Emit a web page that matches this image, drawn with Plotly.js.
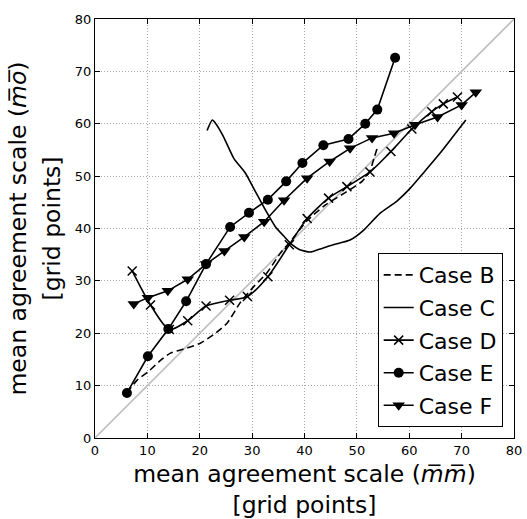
<!DOCTYPE html>
<html><head><meta charset="utf-8">
<script src="https://cdn.plot.ly/plotly-3.0.1.min.js"></script>
<style>body{margin:0;background:#fff}#plot{width:527px;height:519px}</style>
</head><body><div id="plot"></div>
<script>
const caseB_x = [6.1,8.0,10.2,12.5,14.4,17.6,20.1,22.6,25.2,27.7,30.3,32.8,35.4,37.3,40.5,44.0,48.0,51.0,52.5,53.3,54.1];
const caseB_y = [8.6,11.0,12.7,14.8,16.2,17.2,18.1,19.7,21.9,25.8,28.9,31.5,35.3,37.5,41.5,44.5,47.0,49.0,51.0,53.5,56.0];
const caseC_x = [21.4,22.4,23.0,24.5,26.5,28.7,30.6,32.5,34.4,36.0,37.5,39.0,41.1,43.0,45.5,48.7,51.2,54.4,57.6,60.2,62.7,65.9,68.4,70.8];
const caseC_y = [58.7,60.7,60.1,57.6,53.4,50.6,47.1,43.6,40.4,38.6,37.0,36.0,35.5,36.1,36.9,37.8,39.6,42.9,45.2,47.7,50.6,54.4,57.6,60.7];
const caseD_x = [7.1,10.6,14.2,17.7,21.2,25.7,29.1,33.0,37.1,40.5,44.6,48.1,52.5,56.5,60.5,64.3,66.5,69.2];
const caseD_y = [31.9,25.4,20.7,22.4,25.2,26.3,27.0,30.8,36.9,41.9,45.8,48.0,50.8,54.7,59.0,62.3,63.8,65.1];
const caseE_x = [6.1,10.1,14.0,17.4,21.2,25.8,29.4,33.0,36.5,39.6,43.6,48.4,51.6,53.9,57.3];
const caseE_y = [8.6,15.6,20.8,26.1,33.2,40.3,43.0,45.5,49.0,52.5,55.9,57.1,60.0,62.7,72.6];
const caseF_x = [7.4,10.1,13.9,17.7,21.2,24.7,28.5,32.3,36.1,40.5,44.8,48.7,52.9,57.1,61.1,65.4,70.0,72.7];
const caseF_y = [25.6,26.8,28.1,30.3,33.2,35.7,38.4,41.3,45.4,49.6,52.8,55.3,57.3,58.2,59.8,61.3,63.6,66.0];
const diag = [0, 80];
const tickVals = [0,10,20,30,40,50,60,70,80];
const xTitle = 'mean agreement scale (<i>m\u0305m\u0305</i>)<br>[grid points]';
const yTitle1 = 'mean agreement scale (<i>m\u0305o\u0305</i>)';
const yTitle2 = '[grid points]';

const lineW = 1.6;
const traces = [
  {x: diag, y: diag, mode:'lines', line:{color:'#c0c0c0', width:1.6}, showlegend:false, hoverinfo:'skip'},
  {x: caseB_x, y: caseB_y, name:'Case B', mode:'lines', legendgroup:'b', line:{color:'black', width:lineW, dash:'7px,4px', shape:'spline', smoothing:0.6}},
  {x: caseC_x, y: caseC_y, name:'Case C', mode:'lines', legendgroup:'c', line:{color:'black', width:lineW, shape:'spline', smoothing:0.6}},
  {x: caseD_x, y: caseD_y, name:'Case D', mode:'lines+markers', legendgroup:'d', line:{color:'black', width:lineW, shape:'spline', smoothing:0.7}, marker:{symbol:'x-thin-open', size:9, color:'black', line:{color:'black', width:1.5}}},
  {x: caseE_x, y: caseE_y, name:'Case E', mode:'lines+markers', legendgroup:'e', line:{color:'black', width:lineW}, marker:{symbol:'circle', size:10, color:'black'}},
  {x: caseF_x, y: caseF_y, name:'Case F', mode:'lines+markers', legendgroup:'f', line:{color:'black', width:lineW}, marker:{symbol:'triangle-down', size:11, color:'black'}}
];

const font = 'DejaVu Sans, sans-serif';
const titleFont = {family:font, size:23.5, color:'black'};
const axisCommon = {
  range:[0,80], tickvals:tickVals, ticks:'inside', ticklen:5, tickwidth:1, tickcolor:'black',
  showline:true, linecolor:'black', linewidth:1.2, mirror:'allticks',
  showgrid:true, gridcolor:'#a8a8a8', griddash:'1px,2px', gridwidth:1,
  zeroline:false, tickfont:{family:font, size:13, color:'black'}, fixedrange:true, automargin:false
};
const layout = {
  width:527, height:519,
  margin:{l:95, r:13, t:19, b:81},
  paper_bgcolor:'white', plot_bgcolor:'white',
  font:{family:font, color:'black'},
  xaxis: Object.assign({}, axisCommon, {
    title:{text:xTitle, font:titleFont, standoff:12}
  }),
  yaxis: Object.assign({}, axisCommon),
  annotations:[
    {text:yTitle1, xref:'paper', yref:'paper', x:-0.186, y:0.5, xanchor:'center', yanchor:'middle', textangle:-90, showarrow:false, font:titleFont},
    {text:yTitle2, xref:'paper', yref:'paper', x:-0.105, y:0.5, xanchor:'center', yanchor:'middle', textangle:-90, showarrow:false, font:titleFont}
  ],
  legend:{x:0.973, y:0.026, xanchor:'right', yanchor:'bottom', bgcolor:'white', bordercolor:'black', borderwidth:1,
          font:{family:font, size:22, color:'black'}, tracegroupgap:1, traceorder:'grouped'},
  showlegend:true
};
Plotly.newPlot('plot', traces, layout, {displayModeBar:false, staticPlot:true});
</script></body></html>
